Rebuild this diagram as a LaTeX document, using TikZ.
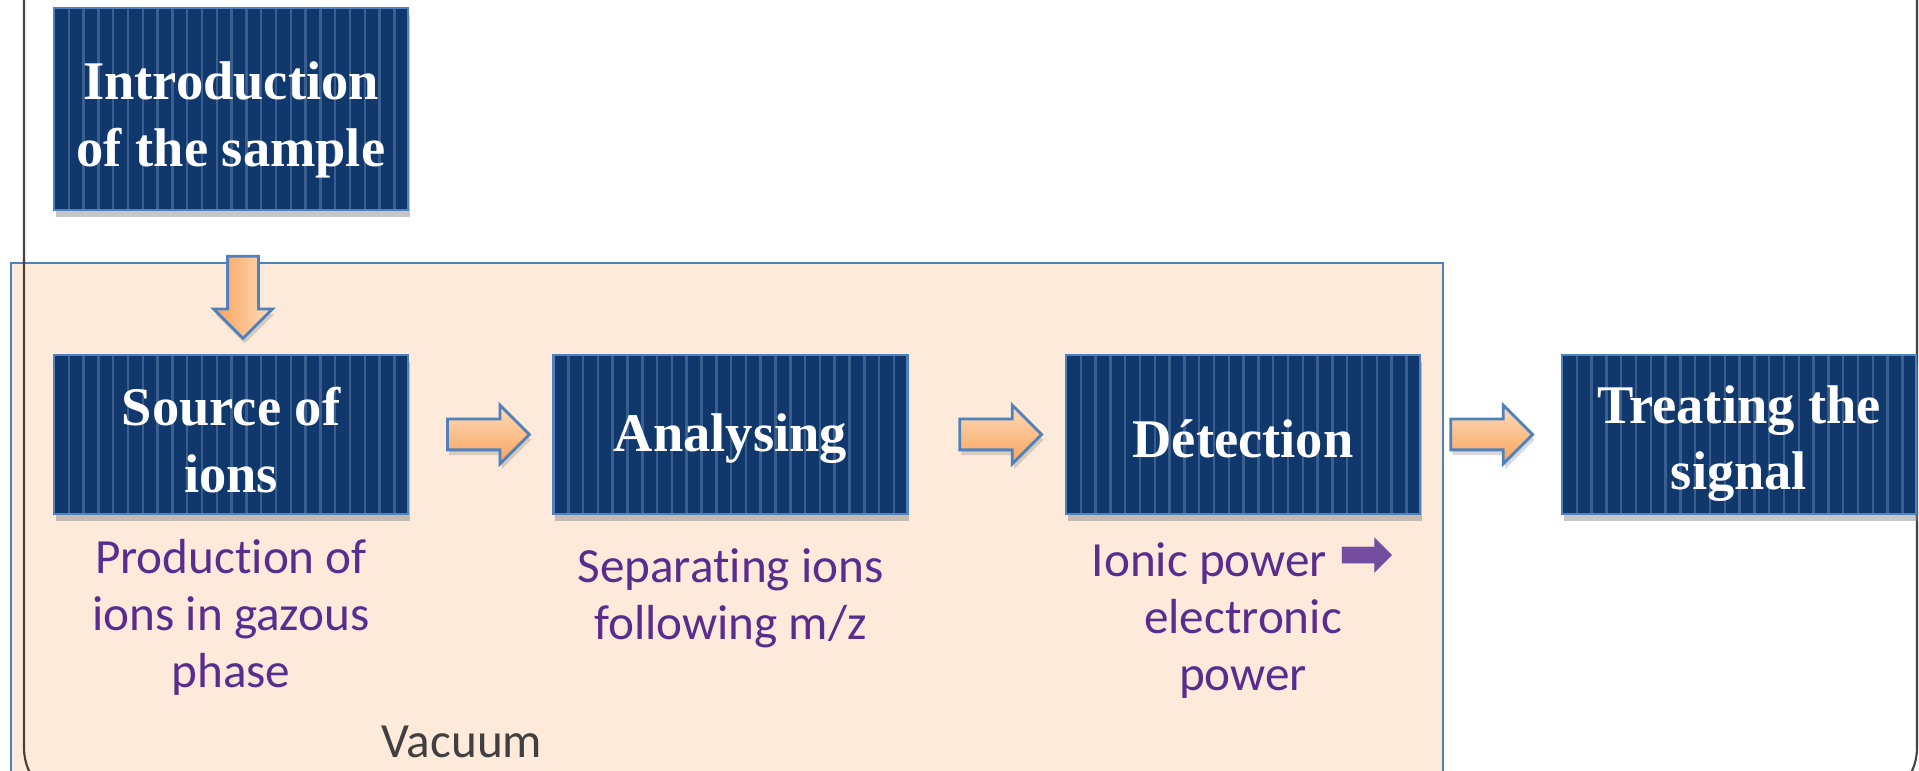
\documentclass[tikz,border=0pt]{standalone}
\usepackage{fontspec}
\usepackage{xcolor}
\usepackage{tikz}
\usetikzlibrary{positioning,shapes.arrows,shadows}
\setsansfont{Carlito}[Ligatures=NoCommon]
\newfontfamily\titlefont{Liberation Serif}
\newfontfamily\symfont{DejaVu Sans}
\definecolor{boxblue}{HTML}{10386C}
\definecolor{boxedge}{HTML}{4F81BD}
\definecolor{stripeblue}{HTML}{3A5F8F}
\definecolor{arrowlight}{HTML}{FDDCBD}
\definecolor{arrowdark}{HTML}{F9A259}
\definecolor{vacfill}{HTML}{FDEADA}
\definecolor{notepurple}{HTML}{5B2C8F}
\definecolor{framegray}{HTML}{4A4039}

\begin{document}
\begin{tikzpicture}[
        stage/.style={rectangle,draw=boxedge,line width=0.6pt,fill=boxblue,
                    minimum width=3.54cm,minimum height=1.59cm,align=center,
                    text=white,font=\titlefont\bfseries\fontsize{15.5}{19}\selectfont,
                    drop shadow={shadow xshift=0.5pt,shadow yshift=-2pt,opacity=0.45},
                    path picture={\foreach \k in {1,...,24}
                      \draw[stripeblue,line width=0.7pt]
                        ([xshift=\k*0.148cm]path picture bounding box.south west) --
                        ([xshift=\k*0.148cm]path picture bounding box.north west);}},
        note/.style={align=center,inner sep=0pt,text=notepurple,
                    font=\sffamily\fontsize{14}{16.2}\selectfont},
        flow/.style={single arrow,single arrow head extend=0.14cm,inner sep=0.14cm,
                    minimum height=0.82cm,draw=boxedge,line width=0.8pt,
                    top color=arrowlight,bottom color=arrowdark,
                    drop shadow={shadow xshift=0.5pt,shadow yshift=-1.5pt,opacity=0.3}},
        flowdown/.style={flow,shape border rotate=270,
                    left color=arrowdark,right color=arrowlight}]
      \useasboundingbox (0,0) rectangle (19.19,7.71);
      \clip (0,0) rectangle (19.19,7.71);
      % vacuum chamber and page frame
      \filldraw[fill=vacfill,draw=boxedge,line width=0.8pt] (0.11,-0.5) rectangle (14.43,5.08);
      \draw[framegray,line width=0.6pt,rounded corners=0.55cm]
        (0.24,8.5) -- (0.24,-0.32) -- (19.17,-0.32) -- (19.17,8.5);
      \node[text=black!75,font=\sffamily\fontsize{14}{16}\selectfont] (vac) at (4.62,0.29) {Vacuum};
      % stages (the struts push the titles a little down)
      \node[stage,minimum height=2.02cm] (intro) at (2.31,6.62) {\rule{0pt}{17pt}Introduction\\of the sample};
      \node[stage] (source) at (2.31,3.365) {\rule{0pt}{14pt}Source of\\ions};
      \node[stage] (analyse) at (7.305,3.365) {\rule{0pt}{13pt}Analysing};
      \node[stage] (detect) at (12.43,3.365) {\rule{0pt}{13pt}Détection};
      \node[stage] (treat) at (17.39,3.365) {\rule{0pt}{16pt}Treating the\\signal};
      % what each stage does
      \node[note,below=0.24cm of source] (sourcenote) {Production of\\ions in gazous\\phase};
      \node[note,below=0.33cm of analyse] (analysenote) {Separating ions\\following m/z};
      \node[note,below=0.22cm of detect] (detectnote)
        {Ionic power {\symfont\bfseries\fontsize{19}{16}\selectfont\color{notepurple!85!white}➡}\\electronic\\power};
      % block arrows
      \path ([xshift=0.12cm]intro.south) -- node[flowdown,pos=0.55] (a0) {} ([xshift=0.12cm]source.north);
      \path (source) -- node[flow] (a1) {} (analyse);
      \path (analyse) -- node[flow,pos=0.54] (a2) {} (detect);
      \path (detect) -- node[flow,pos=0.45] (a3) {} (treat);
    \end{tikzpicture}
\end{document}
